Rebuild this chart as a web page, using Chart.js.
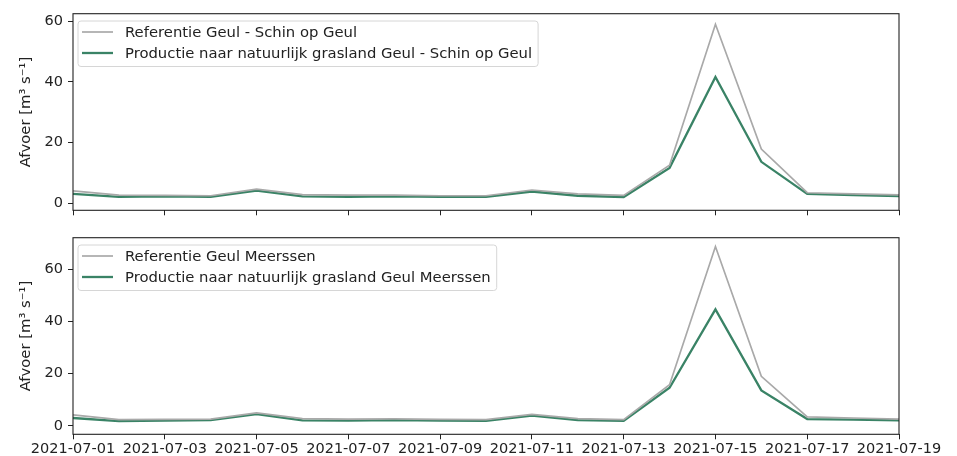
<!DOCTYPE html>
<html>
<head>
<meta charset="utf-8">
<script src="https://cdn.jsdelivr.net/npm/chart.js@4"></script>
<style>
  html, body { margin: 0; padding: 0; background: #fff; }
  #wrap { position: relative; width: 957px; height: 456px; }
  #wrap canvas { position: absolute; left: 0; }
  #chartSchin { top: 0; }
  #chartMeerssen { top: 224px; }
</style>
</head>
<body>
<div id="wrap">
  <canvas id="chartSchin" width="957" height="224"></canvas>
  <canvas id="chartMeerssen" width="957" height="232"></canvas>
</div>
<script>
// daily discharge, July 2021 flood on the Geul
const dates = [
  '2021-07-01', '2021-07-02', '2021-07-03', '2021-07-04', '2021-07-05',
  '2021-07-06', '2021-07-07', '2021-07-08', '2021-07-09', '2021-07-10',
  '2021-07-11', '2021-07-12', '2021-07-13', '2021-07-14', '2021-07-15',
  '2021-07-16', '2021-07-17', '2021-07-18', '2021-07-19'
];

const refSchin  = [4.0, 2.6, 2.5, 2.4, 4.6, 2.8, 2.6, 2.6, 2.4, 2.4, 4.3, 3.0, 2.5, 12.5, 59.0, 17.8, 3.4, 3.0, 2.7];
const prodSchin = [3.0, 2.0, 2.2, 2.0, 4.1, 2.2, 2.0, 2.2, 2.0, 2.0, 3.8, 2.4, 2.0, 11.6, 41.6, 13.6, 3.0, 2.6, 2.3];

const refMeerssen  = [4.2, 2.4, 2.5, 2.6, 5.0, 2.8, 2.6, 2.7, 2.5, 2.4, 4.4, 2.8, 2.4, 15.8, 68.8, 19.0, 3.4, 3.0, 2.6];
const prodMeerssen = [3.0, 1.8, 2.0, 2.2, 4.5, 2.1, 2.0, 2.2, 2.0, 1.9, 3.9, 2.2, 1.9, 14.6, 44.7, 13.6, 2.6, 2.4, 2.1];

const yLabel = 'Afvoer [m\u00B3 s\u207B\u00B9]';

const GREY = '#a9a9a9';
const GREEN = '#3a8366';
const INK = '#222';
const FONT = '"DejaVu Sans", sans-serif';

Chart.defaults.font.family = FONT;
Chart.defaults.font.size = 14.5;
Chart.defaults.color = INK;

// full box around the plot area, like matplotlib spines
const frame = {
  id: 'frame',
  afterDatasetsDraw(chart) {
    const { ctx, chartArea: a } = chart;
    ctx.save();
    ctx.strokeStyle = INK;
    ctx.lineWidth = 1.1;
    ctx.strokeRect(a.left, a.top, a.right - a.left, a.bottom - a.top);
    ctx.restore();
  }
};

// legend drawn inside the upper left corner of the plot area
const innerLegend = {
  id: 'innerLegend',
  afterDraw(chart) {
    const { ctx, chartArea: a } = chart;
    const sets = chart.data.datasets;
    ctx.save();
    ctx.font = '14.8px ' + FONT;
    const textW = Math.max(...sets.map(d => ctx.measureText(d.label).width));
    const x = a.left + 5, y = a.top + 7.3;
    const w = 47 + textW + 6, h = 45.5;
    ctx.beginPath();
    ctx.roundRect(x, y, w, h, 3);
    ctx.fillStyle = 'rgba(255,255,255,0.85)';
    ctx.fill();
    ctx.strokeStyle = '#d6d6d6';
    ctx.lineWidth = 1;
    ctx.stroke();
    sets.forEach((d, i) => {
      const cy = y + 11 + i * 21;
      ctx.strokeStyle = d.borderColor;
      ctx.lineWidth = d.borderWidth;
      ctx.beginPath();
      ctx.moveTo(x + 4, cy);
      ctx.lineTo(x + 35, cy);
      ctx.stroke();
      ctx.fillStyle = INK;
      ctx.textBaseline = 'middle';
      ctx.fillText(d.label, x + 47, cy + 1);
    });
    ctx.restore();
  }
};

function makePanel(id, refLabel, prodLabel, refData, prodData, yMin, yMax, opts) {
  return new Chart(document.getElementById(id), {
    type: 'line',
    data: {
      labels: dates,
      datasets: [
        {
          label: refLabel,
          data: refData,
          borderColor: GREY,
          borderWidth: 1.7,
          pointRadius: 0,
          tension: 0
        },
        {
          label: prodLabel,
          data: prodData,
          borderColor: GREEN,
          borderWidth: 2.3,
          pointRadius: 0,
          tension: 0
        }
      ]
    },
    options: {
      responsive: false,
      animation: false,
      layout: { padding: { left: 0, right: 58, top: opts.top, bottom: 0 } },
      plugins: {
        legend: { display: false },
        tooltip: { enabled: false }
      },
      scales: {
        x: {
          offset: false,
          border: { display: false },
          grid: { drawOnChartArea: false, tickLength: 5, color: INK },
          ticks: {
            autoSkip: false,
            maxRotation: 0,
            padding: 1,
            callback: (v, i) => (i % 2 === 0 ? (opts.showDates ? dates[i] : '') : null)
          },
          afterFit: s => { s.height = opts.xHeight; }
        },
        y: {
          min: yMin,
          max: yMax,
          border: { display: false },
          grid: { drawOnChartArea: false, tickLength: 5, color: INK },
          ticks: { stepSize: 20, includeBounds: false, padding: 5 },
          title: {
            display: true,
            text: yLabel,
            font: { size: 14.8 },
            padding: { top: 17, bottom: 0 }
          },
          afterFit: s => { s.width = 73; }
        }
      }
    },
    plugins: [frame, innerLegend]
  });
}

makePanel('chartSchin',
  'Referentie Geul - Schin op Geul',
  'Productie naar natuurlijk grasland Geul - Schin op Geul',
  refSchin, prodSchin, -2.4, 62.5,
  { top: 12.7, xHeight: 11.7, showDates: false });

makePanel('chartMeerssen',
  'Referentie Geul Meerssen',
  'Productie naar natuurlijk grasland Geul Meerssen',
  refMeerssen, prodMeerssen, -3.25, 72.2,
  { top: 10.3, xHeight: 21.7, showDates: true });
</script>
</body>
</html>
